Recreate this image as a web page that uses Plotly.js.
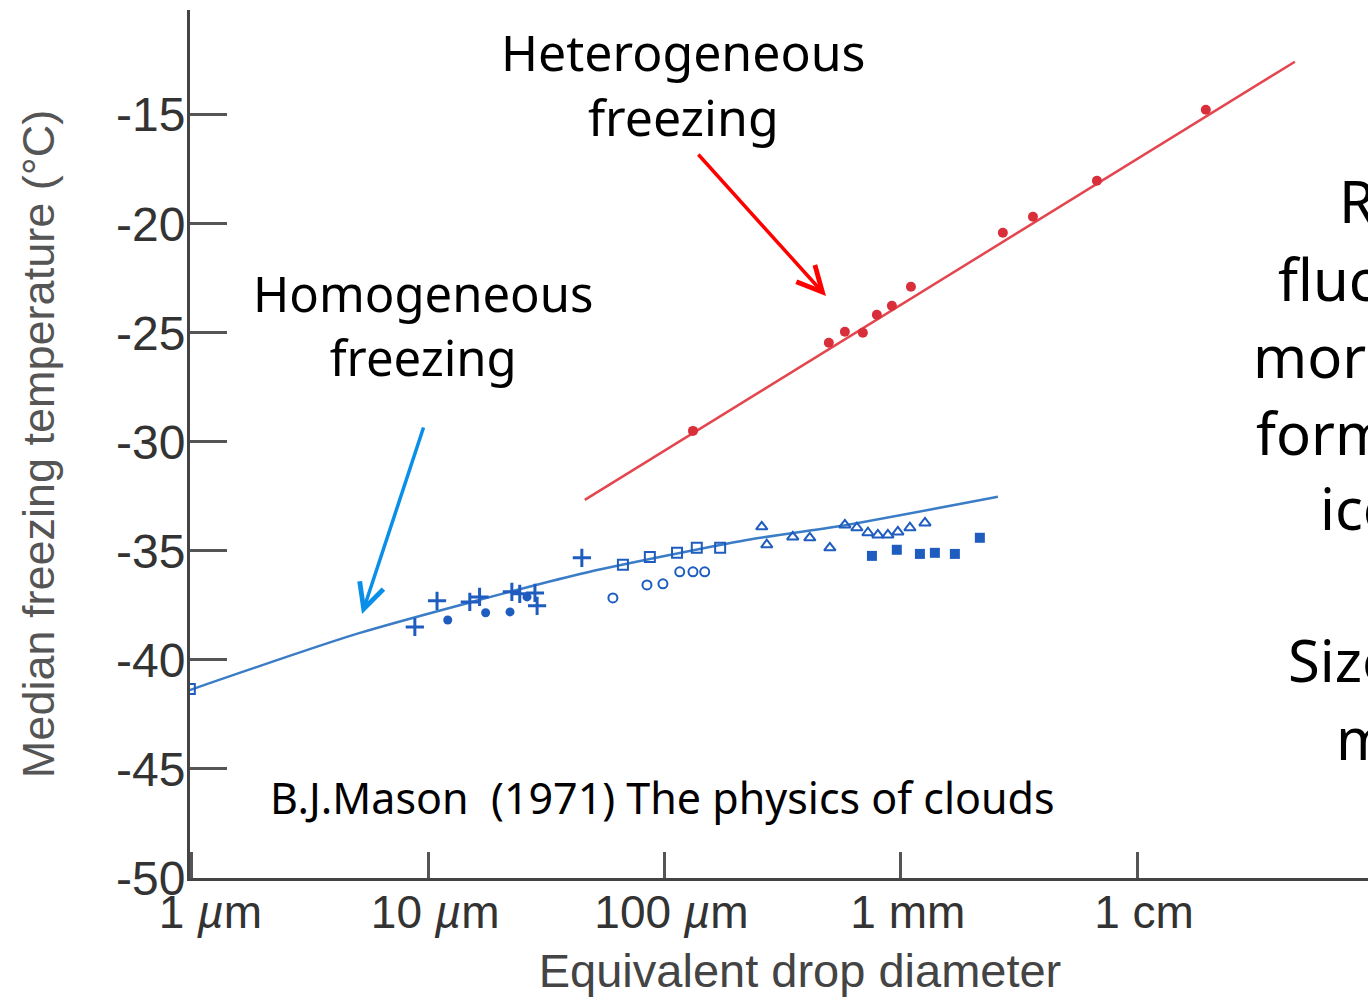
<!DOCTYPE html>
<html>
<head>
<meta charset="utf-8">
<script src="https://cdn.plot.ly/plotly-3.0.1.min.js"></script>
<style>
html,body{margin:0;padding:0;background:#fff;overflow:hidden;}
#chart{width:1410px;height:997px;}
</style>
</head>
<body>
<div id="chart"></div>
<script>
// ---- data (diameter in µm, temperature in °C) ----
const xTickVals = [1, 10, 100, 1000, 10000];
const xTickText = ["\u20021 <i>µ</i>m", "10 <i>µ</i>m", "100 <i>µ</i>m", "1 mm", "1 cm"];
const yTickVals = [-50, -45, -40, -35, -30, -25, -20, -15];

// Heterogeneous freezing (red)
const redD = [132, 496, 580, 691, 792, 917, 1104, 2704, 3625, 6761, 19540];
const redT = [-29.5, -25.46, -24.95, -25.0, -24.17, -23.76, -22.89, -20.41, -19.68, -18.03, -14.77];
const redFitD = [46, 46550];
const redFitT = [-32.66, -12.57];

// Homogeneous freezing (blue) fitted curve
const blueFitD = [0.98, 5.14, 43.9, 223, 591, 2576];
const blueFitT = [-41.38, -38.76, -36.06, -34.50, -33.81, -32.52];

// Blue data sets
const plusD = [8.78, 10.9, 15.0, 16.5, 22.6, 24.4, 28.3, 28.9, 44.7];
const plusT = [-38.49, -37.29, -37.34, -37.11, -36.88, -36.97, -36.93, -37.52, -35.32];
const dotD = [12.1, 17.5, 22.2, 26.2];
const dotT = [-38.17, -37.84, -37.80, -37.11];
const sqOpenD = [0.98, 66.7, 86.7, 113, 137, 172];
const sqOpenT = [-41.33, -35.64, -35.28, -35.09, -34.86, -34.86];
const circOpenD = [60.5, 84.3, 98.5, 116, 132, 148];
const circOpenT = [-37.16, -36.56, -36.51, -35.96, -35.96, -35.96];
const triD = [258, 271, 349, 412, 501, 580, 652, 726, 800, 882, 972, 1093, 1266];
const triT = [-33.90, -34.72, -34.36, -34.40, -34.86, -33.81, -33.94, -34.17, -34.27, -34.27, -34.13, -33.94, -33.72];
const sqFillD = [755, 962, 1205, 1394, 1694, 2161];
const sqFillT = [-35.23, -34.95, -35.14, -35.09, -35.14, -34.40];

const BLUE = '#1f5cbf';
const traces = [
  {x: redFitD, y: redFitT, mode: 'lines', line: {color: '#e4464f', width: 2.5}},
  {x: redD, y: redT, mode: 'markers', marker: {color: '#d92f3b', size: 10, symbol: 'circle'}},
  {x: blueFitD, y: blueFitT, mode: 'lines', line: {color: '#3b7cc6', width: 2.5, shape: 'spline', smoothing: 0.6}},
  {x: plusD, y: plusT, mode: 'markers', marker: {symbol: 'cross-thin-open', size: 13, color: BLUE, line: {color: BLUE, width: 3}}},
  {x: dotD, y: dotT, mode: 'markers', marker: {symbol: 'circle', size: 9, color: BLUE}},
  {x: sqOpenD, y: sqOpenT, mode: 'markers', marker: {symbol: 'square-open', size: 10, color: BLUE, line: {color: BLUE, width: 2}}},
  {x: circOpenD, y: circOpenT, mode: 'markers', marker: {symbol: 'circle-open', size: 9, color: BLUE, line: {color: BLUE, width: 2}}},
  {x: triD, y: triT, mode: 'markers', marker: {symbol: 'triangle-up-open', size: 10, color: BLUE, line: {color: BLUE, width: 2}}},
  {x: sqFillD, y: sqFillT, mode: 'markers', marker: {symbol: 'square', size: 10, color: BLUE}}
];

const HAND = 'Noto Sans, DejaVu Sans, sans-serif';
const rightLines = [
  ['Random', 0.9402, 0.7811],
  ['fluctuations', 0.8902, 0.6912],
  ['more likely', 0.8697, 0.6025],
  ['forming', 0.8721, 0.5138],
  ['ice', 0.9246, 0.4274],
  ['Size', 0.8984, 0.2512],
  ['matters', 0.9377, 0.1613]
];

const annotations = [
  {xref: 'paper', yref: 'paper', x: 0.4041, y: 0.9142, xanchor: 'center', yanchor: 'middle',
   text: 'Heterogeneous<br>freezing', showarrow: false, font: {family: HAND, size: 50, color: '#000'}},
  {xref: 'paper', yref: 'paper', x: 0.1918, y: 0.6371, xanchor: 'center', yanchor: 'middle',
   text: 'Homogeneous<br>freezing', showarrow: false, font: {family: HAND, size: 49, color: '#000'}},
  {xref: 'paper', yref: 'paper', x: 0.3869, y: 0.0933, xanchor: 'center', yanchor: 'middle',
   text: 'B.J.Mason \u00a0(1971) The physics of clouds', showarrow: false, font: {family: HAND, size: 43, color: '#000'}},
  {xref: 'paper', yref: 'paper', x: 0.5213, y: 0.6705, text: '', showarrow: true,
   ax: -129, ay: -143, arrowhead: 5, arrowsize: 1.4, arrowwidth: 3.5, arrowcolor: '#ff0000', standoff: 0},
  {xref: 'paper', yref: 'paper', x: 0.1410, y: 0.3041, text: '', showarrow: true,
   ax: 62, ay: -188, arrowhead: 5, arrowsize: 1.4, arrowwidth: 3.5, arrowcolor: '#0a8fe8', standoff: 0}
];
rightLines.forEach(function (r) {
  annotations.push({xref: 'paper', yref: 'paper', x: r[1], y: r[2], xanchor: 'left', yanchor: 'middle',
    text: r[0], showarrow: false, font: {family: HAND, size: 58, color: '#000'}});
});

const AXFONT = 'Liberation Sans, Arial, sans-serif';
const layout = {
  width: 1410, height: 997,
  margin: {l: 190, r: 0, t: 10, b: 119, pad: 0},
  paper_bgcolor: '#fff', plot_bgcolor: '#fff',
  showlegend: false,
  xaxis: {
    type: 'log', range: [-0.008, 5.155],
    tickvals: xTickVals, ticktext: xTickText,
    ticks: 'inside', ticklen: 26, tickwidth: 3, tickcolor: '#555',
    showline: true, linecolor: '#444', linewidth: 3,
    showgrid: false, zeroline: false,
    tickfont: {family: AXFONT, size: 46, color: '#333'},
    ticklabelshift: 7, ticklabelstandoff: -8,
    title: {text: 'Equivalent drop diameter', font: {family: AXFONT, size: 47, color: '#444'}, standoff: 18}
  },
  yaxis: {
    range: [-50, -10.2],
    tickvals: yTickVals, ticktext: yTickVals.map(String),
    ticks: 'inside', ticklen: 37, tickwidth: 3, tickcolor: '#555',
    showline: true, linecolor: '#444', linewidth: 3,
    showgrid: false, zeroline: false,
    tickfont: {family: AXFONT, size: 48, color: '#333'},
    ticklabelstandoff: -8,
    title: {text: 'Median freezing temperature (°C)', font: {family: AXFONT, size: 45, color: '#555'}, standoff: 48}
  },
  annotations: annotations
};

Plotly.newPlot('chart', traces, layout, {displayModeBar: false, staticPlot: true});
</script>
</body>
</html>
